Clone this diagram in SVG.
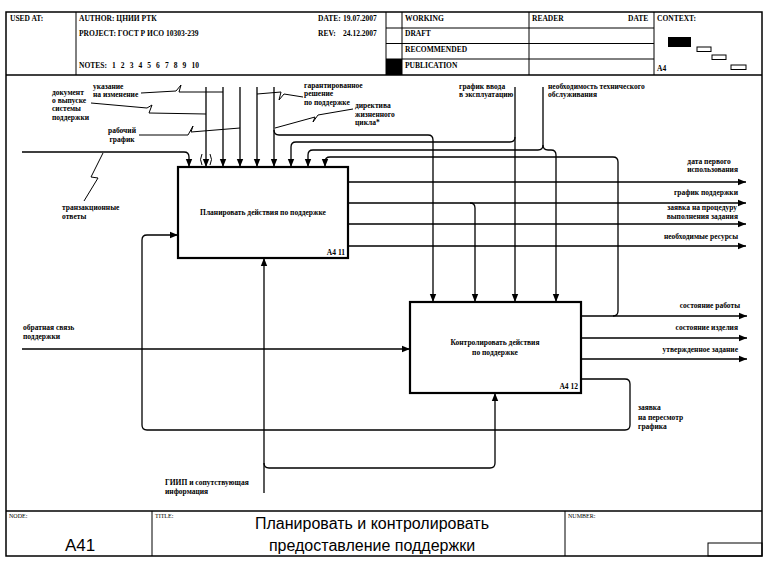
<svg xmlns="http://www.w3.org/2000/svg" width="777" height="569" viewBox="0 0 777 569">
<defs>
<style>
.t{font-family:"Liberation Serif","Times New Roman",serif;font-size:7.5px;font-weight:bold;fill:#000}
.s{font-family:"Liberation Serif","Times New Roman",serif;font-size:6px;fill:#000}
.big{font-family:"Liberation Sans",Arial,sans-serif;font-size:16px;fill:#000}
.fr{fill:none;stroke:#000;stroke-width:1.5}
.th{fill:none;stroke:#000;stroke-width:1}
.ln{fill:none;stroke:#000;stroke-width:1.3}
.sq{fill:none;stroke:#000;stroke-width:1}
.box{fill:#fff;stroke:#000;stroke-width:2.2}
</style>
<marker id="ah" markerWidth="8" markerHeight="8" refX="8" refY="4" orient="auto" markerUnits="userSpaceOnUse"><path d="M0,0.8 L8,4 L0,7.2 z" fill="#000"/></marker>
</defs>
<rect width="777" height="569" fill="#fff"/>

<g id="header">
<rect class="fr" x="6" y="12" width="756" height="544"/>
<line class="fr" x1="6" y1="75" x2="762" y2="75"/>
<line class="th" x1="76" y1="12" x2="76" y2="75"/>
<line class="th" x1="386" y1="12" x2="386" y2="75"/>
<line class="th" x1="402" y1="12" x2="402" y2="75"/>
<line class="th" x1="529" y1="12" x2="529" y2="75"/>
<line class="th" x1="654" y1="12" x2="654" y2="75"/>
<line class="th" x1="386" y1="28" x2="654" y2="28"/>
<line class="th" x1="386" y1="43.5" x2="654" y2="43.5"/>
<line class="th" x1="386" y1="59" x2="654" y2="59"/>
<rect x="386" y="59" width="16" height="16" fill="#000"/>
<text class="t" x="10" y="21">USED AT:</text>
<text class="t" x="79" y="21">AUTHOR: ЦНИИ РТК</text>
<text class="t" x="79" y="36">PROJECT: ГОСТ Р ИСО 10303-239</text>
<text class="t" x="79" y="68" style="word-spacing:3.2px">NOTES: 1 2 3 4 5 6 7 8 9 10</text>
<text class="t" x="318" y="21">DATE:</text>
<text class="t" x="343" y="21">19.07.2007</text>
<text class="t" x="318" y="36">REV:</text>
<text class="t" x="343" y="36">24.12.2007</text>
<text class="t" x="405" y="21">WORKING</text>
<text class="t" x="405" y="36">DRAFT</text>
<text class="t" x="405" y="52">RECOMMENDED</text>
<text class="t" x="405" y="68">PUBLICATION</text>
<text class="t" x="532" y="21">READER</text>
<text class="t" x="628" y="21">DATE</text>
<text class="t" x="657" y="21">CONTEXT:</text>
<text class="t" x="657" y="71">A4</text>
<rect x="668" y="37" width="23" height="10" fill="#000"/>
<rect class="th" x="697" y="47" width="14" height="4.5"/>
<rect class="th" x="712" y="55" width="14" height="4.5"/>
<rect class="th" x="731" y="65" width="15" height="4.5"/>
</g>

<g id="footer">
<line class="fr" x1="6" y1="511" x2="762" y2="511"/>
<line class="th" x1="152" y1="511" x2="152" y2="556"/>
<line class="th" x1="565" y1="511" x2="565" y2="556"/>
<rect class="th" x="708" y="543" width="54" height="13"/>
<text class="s" x="9" y="518">NODE:</text>
<text class="s" x="155" y="518">TITLE:</text>
<text class="s" x="568" y="518">NUMBER:</text>
<text class="big" x="80" y="551" text-anchor="middle" style="font-size:17px">A41</text>
<text class="big" x="372" y="529" text-anchor="middle">Планировать и контролировать</text>
<text class="big" x="372" y="551" text-anchor="middle">предоставление поддержки</text>
</g>

<g id="connectors">
<!-- box1 controls -->
<path class="ln" d="M22,152 H184 Q189,152 189,157 V167" marker-end="url(#ah)"/>
<path class="ln" d="M206,87 V167" marker-end="url(#ah)"/>
<path class="th" d="M202,154 Q199,159.5 202,165 M210,154 Q213,159.5 210,165"/>
<path class="ln" d="M223,87 V167" marker-end="url(#ah)"/>
<path class="ln" d="M240,87 V167" marker-end="url(#ah)"/>
<path class="ln" d="M257,87 V167" marker-end="url(#ah)"/>
<path class="ln" d="M274,87 V167" marker-end="url(#ah)"/>
<path class="ln" d="M274,130 Q274,135 279,135 H428 Q433,135 433,140 V302" marker-end="url(#ah)"/>
<path class="ln" d="M515,87 V302" marker-end="url(#ah)"/>
<path class="ln" d="M515,137 Q515,142 510,142 H296 Q291,142 291,147 V167" marker-end="url(#ah)"/>
<path class="ln" d="M543,87 V145 Q543,150 538,150 H313 Q308,150 308,155 V167" marker-end="url(#ah)"/>
<path class="ln" d="M543,145 Q543,150 548,150 H551 Q556,150 556,155 V302" marker-end="url(#ah)"/>
<path class="ln" d="M613,316 Q618,316 618,311 V162 Q618,157 613,157 H330 Q325,157 325,162 V167" marker-end="url(#ah)"/>
<!-- box1 outputs -->
<path class="ln" d="M348,182 H746" marker-end="url(#ah)"/>
<path class="ln" d="M348,203 H746" marker-end="url(#ah)"/>
<path class="ln" d="M348,224 H746" marker-end="url(#ah)"/>
<path class="ln" d="M348,246 H746" marker-end="url(#ah)"/>
<path class="ln" d="M470,203 Q475,203 475,208 V302" marker-end="url(#ah)"/>
<!-- box2 outputs -->
<path class="ln" d="M581,316 H747" marker-end="url(#ah)"/>
<path class="ln" d="M581,338 H747" marker-end="url(#ah)"/>
<path class="ln" d="M581,359 H747" marker-end="url(#ah)"/>
<path class="ln" d="M581,379 H625 Q630,379 630,384 V425 Q630,430 625,430 H147 Q142,430 142,425 V240 Q142,235 147,235 H178" marker-end="url(#ah)"/>
<!-- box2 input -->
<path class="ln" d="M22,349 H410" marker-end="url(#ah)"/>
<!-- mechanisms -->
<path class="ln" d="M264,493 V258" marker-end="url(#ah)"/>
<path class="ln" d="M264,463 Q264,468 269,468 H490 Q495,468 495,463 V393" marker-end="url(#ah)"/>
<!-- squiggles -->
<path class="sq" d="M103,153 L91,177 L98,178 L84,201"/>
<path class="sq" d="M91,103 L147,108 L152,105 L149,113 L206,114"/>
<path class="sq" d="M141,93 L176,91 L181,85 L179,92 L223,92"/>
<path class="sq" d="M139,135 L188,135 L193,126 L191,132 L240,128"/>
<path class="sq" d="M303,97 L284,94 L279,100 L281,92 L257,94"/>
<path class="sq" d="M353,109 L318,115 L313,122 L315,117 L275,128"/>
</g>

<g id="box1">
<rect class="box" x="178" y="167" width="170" height="91"/>
<text class="t" x="263" y="215" text-anchor="middle">Планировать действия по поддержке</text>
<text class="t" x="345" y="255" text-anchor="end">A4 11</text>
</g>
<g id="box2">
<rect class="box" x="410" y="302" width="171" height="91"/>
<text class="t" x="495" y="345" text-anchor="middle">Контролировать действия</text>
<text class="t" x="495" y="355" text-anchor="middle">по поддержке</text>
<text class="t" x="578" y="389" text-anchor="end">A4 12</text>
</g>

<g id="labels">
<text class="t" x="93" y="89">указание</text>
<text class="t" x="93" y="97">на изменение</text>
<text class="t" x="52" y="95">документ</text>
<text class="t" x="52" y="103">о выпуске</text>
<text class="t" x="52" y="111">системы</text>
<text class="t" x="52" y="120">поддержки</text>
<text class="t" x="122" y="133" text-anchor="middle">рабочий</text>
<text class="t" x="122" y="142" text-anchor="middle">график</text>
<text class="t" x="62" y="210">транзакционные</text>
<text class="t" x="62" y="219">ответы</text>
<text class="t" x="304" y="88">гарантированное</text>
<text class="t" x="304" y="96">решение</text>
<text class="t" x="304" y="105">по поддержке</text>
<text class="t" x="355" y="108">директива</text>
<text class="t" x="355" y="117">жизненного</text>
<text class="t" x="355" y="125">цикла*</text>
<text class="t" x="459" y="89">график ввода</text>
<text class="t" x="459" y="97">в эксплуатацию</text>
<text class="t" x="548" y="89">необходимость технического</text>
<text class="t" x="548" y="97">обслуживания</text>
<text class="t" x="709" y="164" text-anchor="middle">дата первого</text>
<text class="t" x="738" y="172" text-anchor="end">использования</text>
<text class="t" x="738" y="195" text-anchor="end">график поддержки</text>
<text class="t" x="737" y="210" text-anchor="end">заявка на процедуру</text>
<text class="t" x="738" y="219" text-anchor="end">выполнения задания</text>
<text class="t" x="738" y="239" text-anchor="end">необходимые ресурсы</text>
<text class="t" x="740" y="308" text-anchor="end">состояние работы</text>
<text class="t" x="738" y="330" text-anchor="end">состояние изделия</text>
<text class="t" x="738" y="352" text-anchor="end">утвержденное задание</text>
<text class="t" x="638" y="410">заявка</text>
<text class="t" x="638" y="420">на пересмотр</text>
<text class="t" x="638" y="429">графика</text>
<text class="t" x="23" y="330">обратная связь</text>
<text class="t" x="23" y="339">поддержки</text>
<text class="t" x="165" y="485">ГИИП и сопутствующая</text>
<text class="t" x="165" y="494">информация</text>
</g>
</svg>
